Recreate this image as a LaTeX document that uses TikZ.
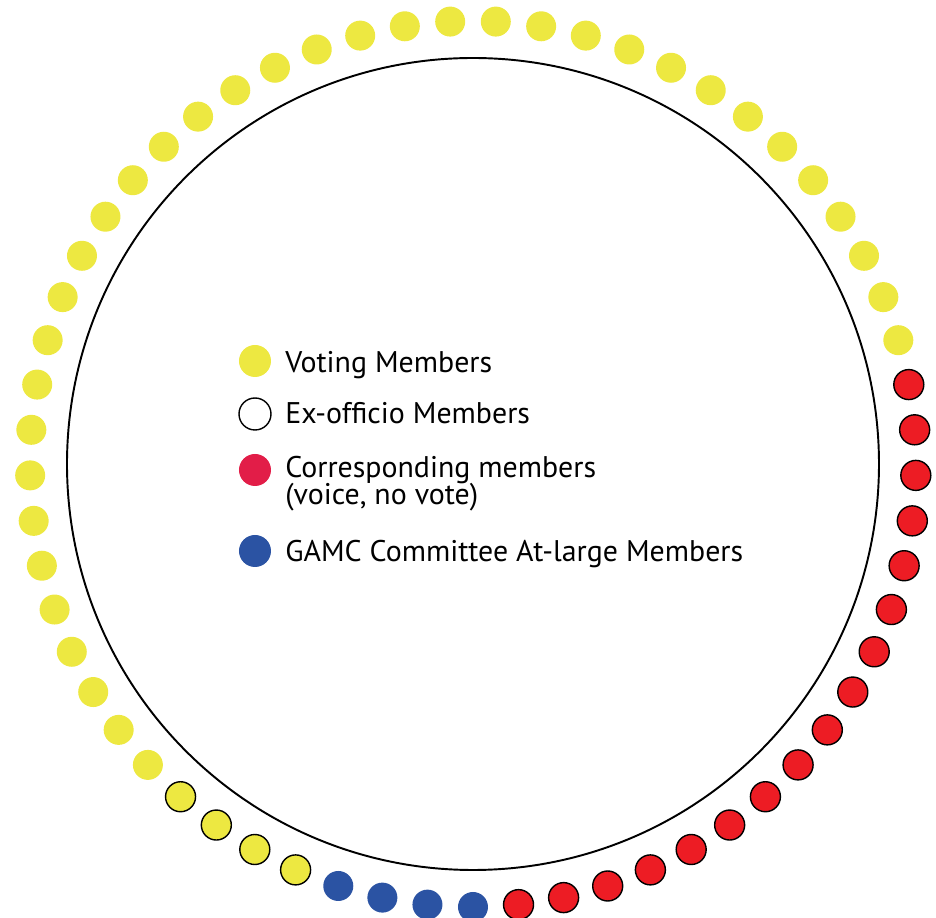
\documentclass[tikz,border=0pt]{standalone}
\usepackage{fontspec}
\setmainfont{PT Sans}
\usepackage{xcolor}
\usetikzlibrary{positioning}

\definecolor{voteyellow}{RGB}{237,232,65}
\definecolor{seatred}{RGB}{237,28,36}
\definecolor{keyred}{RGB}{226,29,72}
\definecolor{seatblue}{RGB}{43,83,163}

\begin{document}
\begin{tikzpicture}[
    seat/.style={circle, minimum size=0.6cm, inner sep=0pt},
    voting/.style={seat, fill=voteyellow},
    exofficio/.style={seat, fill=voteyellow, draw=black, line width=0.8pt},
    corresponding/.style={seat, fill=seatred, draw=black, line width=0.8pt},
    atlarge/.style={seat, fill=seatblue},
    keydot/.style={circle, minimum size=0.64cm, inner sep=0pt},
    keytext/.style={anchor=base west, inner sep=0pt, align=left, font=\fontsize{17}{15.9}\selectfont}
]

\useasboundingbox (-9.46, -9.08) rectangle (9.26, 9.28);

% Table
\node[circle, draw, line width=1.1pt, minimum size=16.24cm, inner sep=0pt] (table) at (0, 0) {};

% Seats around the table, 61 in all
\foreach \i in {1,...,17}
    \node[corresponding] (s\i) at ({270+360/61*\i}:8.86) {};
\foreach \i in {18,...,53}
    \node[voting] (s\i) at ({270+360/61*\i}:8.86) {};
\foreach \i in {54,...,57}
    \node[exofficio] (s\i) at ({270+360/61*\i}:8.86) {};
\foreach \i in {58,...,61}
    \node[atlarge] (s\i) at ({270+360/61*\i}:8.86) {};

% Legend
\node[keydot, fill=voteyellow] (kvote) at (-4.36, 2.06) {};
\node[keytext] (tvote) at (-3.76, 1.82) {Voting Members};

\node[keydot, draw, fill=white, line width=0.8pt] (kex) at (-4.36, 1.0) {};
\node[keytext] (tex) at (-3.76, 0.80) {Ex-officio Members};

\node[keydot, fill=keyred] (kcorr) at (-4.36, -0.12) {};
\node[keytext] (tcorr) at (-3.76, -0.82) {Corresponding members\\(voice, no vote)};

\node[keydot, fill=seatblue] (kat) at (-4.36, -1.74) {};
\node[keytext] (tat) at (-3.76, -1.96) {GAMC Committee At-large Members};

\end{tikzpicture}
\end{document}
